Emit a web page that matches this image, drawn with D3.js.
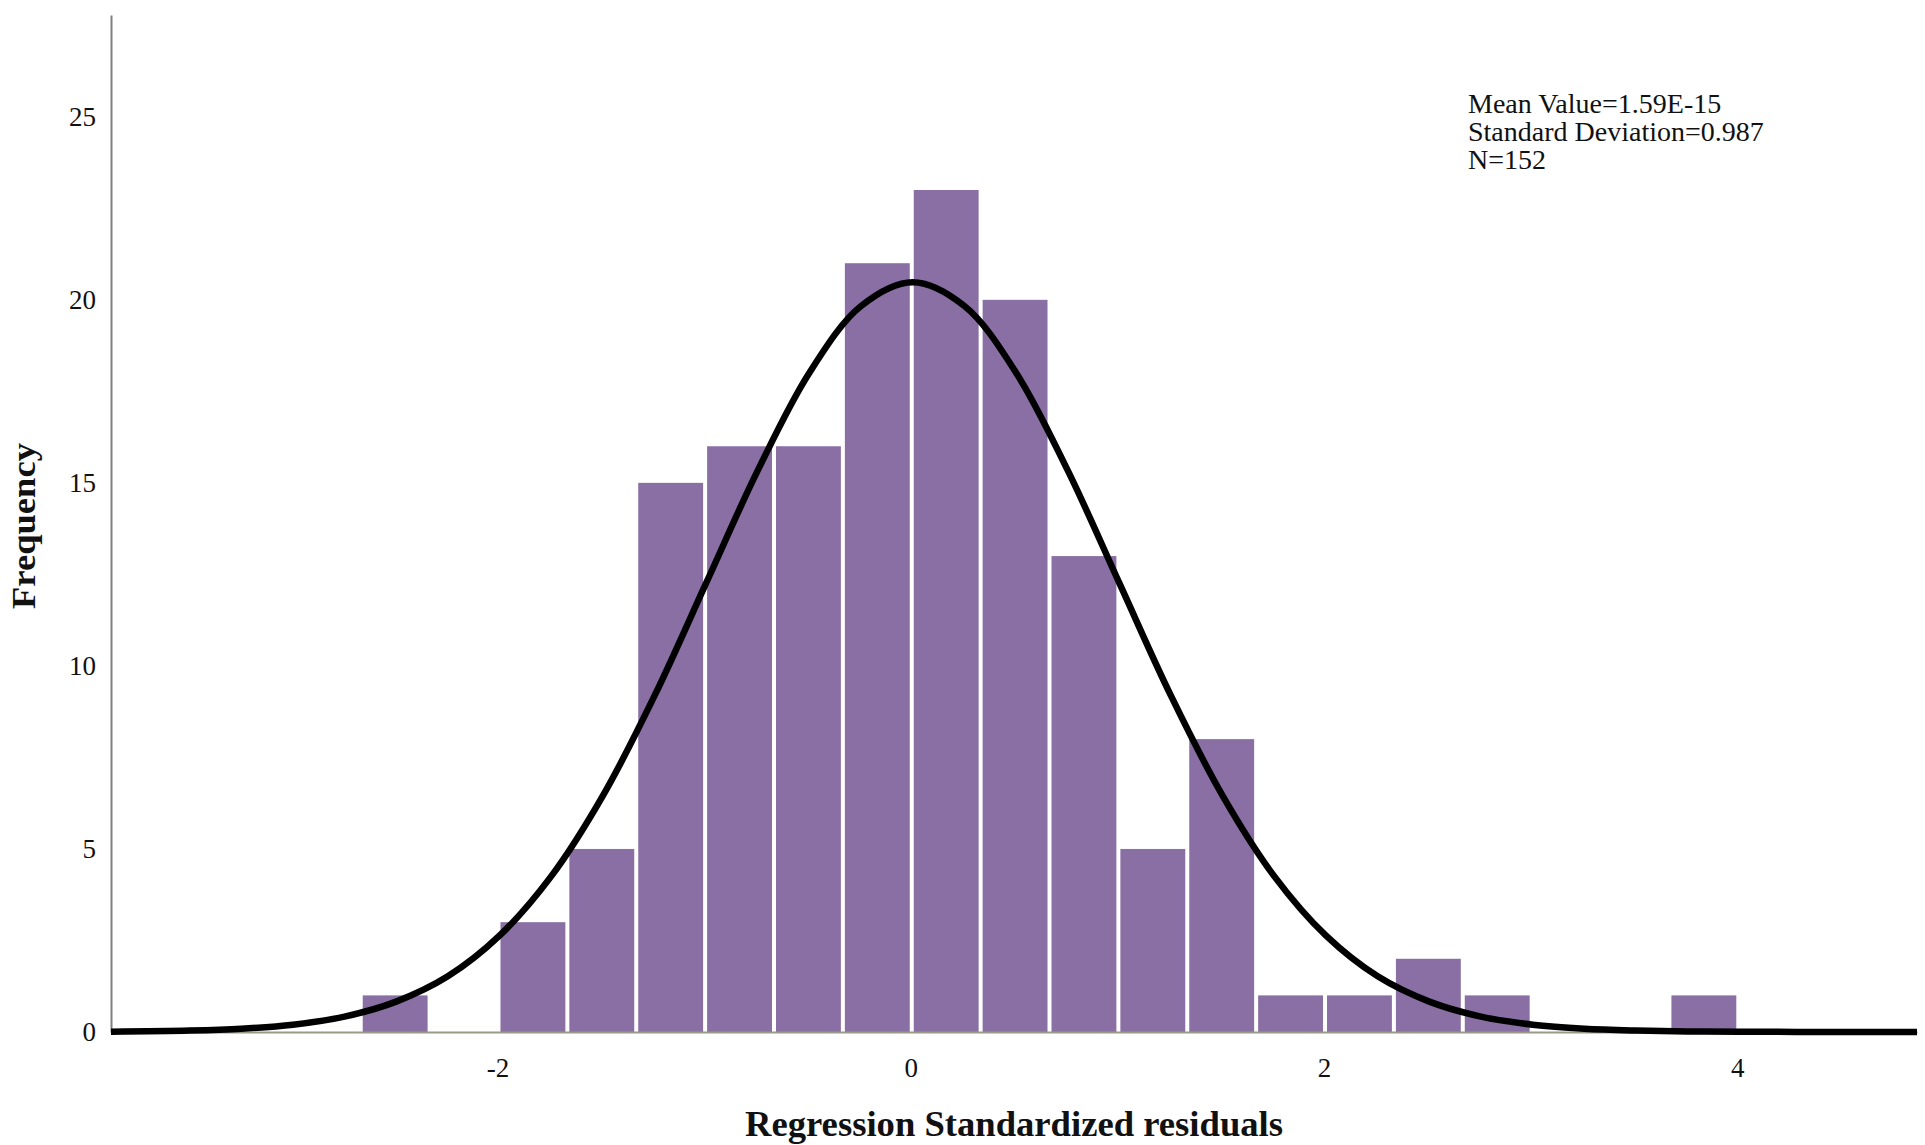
<!DOCTYPE html>
<html>
<head>
<meta charset="utf-8">
<script src="https://cdn.jsdelivr.net/npm/d3@7"></script>
<style>
  body { margin: 0; background: #fff; }
  svg { display: block; }
</style>
</head>
<body>
<svg id="chart"></svg>
<script>
// histogram bins (width 1/3), left edges and counts
const binStarts = [-8, -7, -6, -5, -4, -3, -2, -1, 0, 1, 2, 3, 4, 5, 6, 7, 8, 9, 10, 11].map((k) => k / 3);
const binCounts = [1, 0, 3, 5, 15, 16, 16, 21, 23, 20, 13, 5, 8, 1, 1, 2, 1, 0, 0, 1];
const binWidth = 1 / 3;

// normal curve
const curveX = [-3.88, -3.5, -3.25, -3, -2.75, -2.5, -2.25, -2, -1.75, -1.5, -1.25, -1, -0.75, -0.5, -0.25,
  0, 0.25, 0.5, 0.75, 1, 1.25, 1.5, 1.75, 2, 2.25, 2.5, 2.75, 3, 3.25, 3.5, 3.75, 4, 4.5, 4.86];
const curveY = [0.01, 0.04, 0.09, 0.2, 0.42, 0.83, 1.52, 2.63, 4.25, 6.45, 9.18, 12.26, 15.34, 18.01, 19.83,
  20.48, 19.83, 18.01, 15.34, 12.26, 9.18, 6.45, 4.25, 2.63, 1.52, 0.83, 0.42, 0.2, 0.09, 0.04, 0.015, 0.006, 0.001, 0];

const xTicks = [-2, 0, 2, 4];
const yTicks = [0, 5, 10, 15, 20, 25];
const statLines = ["Mean Value=1.59E-15", "Standard Deviation=0.987", "N=152"];

const W = 1925, H = 1145;
const plot = { left: 111, right: 1917, top: 15, bottom: 1032 };

const svg = d3.select("#chart").attr("width", W).attr("height", H);

const x = d3.scaleLinear().domain([-3.88, 4.86]).range([plot.left, plot.right]);
const y = d3.scaleLinear().domain([0, 27.78]).range([plot.bottom, plot.top]);

const serif = "'Liberation Serif', 'DejaVu Serif', serif";

// bars
const bins = binStarts.map((s, i) => ({ x0: s, x1: s + binWidth, n: binCounts[i] })).filter((d) => d.n > 0);
svg.append("g")
  .selectAll("rect")
  .data(bins)
  .enter()
  .append("rect")
  .attr("x", (d) => x(d.x0) + 1)
  .attr("width", (d) => x(d.x1) - x(d.x0) - 4)
  .attr("y", (d) => y(d.n))
  .attr("height", (d) => y(0) - y(d.n))
  .attr("fill", "#8a6fa4");

// x axis
const xAxis = svg.append("g")
  .attr("transform", `translate(0,${plot.bottom})`)
  .call(d3.axisBottom(x).tickValues(xTicks).tickSize(0).tickPadding(26).tickFormat((d) => String(d)));
xAxis.select(".domain").attr("stroke", "#9a9a8a").attr("stroke-width", 2);
xAxis.selectAll("text")
  .attr("dx", -2)
  .style("font-family", serif)
  .style("font-size", "27px")
  .attr("fill", "#111");

// y axis
const yAxis = svg.append("g")
  .attr("transform", `translate(${plot.left},0)`)
  .call(d3.axisLeft(y).tickValues(yTicks).tickSize(0).tickPadding(15));
yAxis.select(".domain").attr("stroke", "#808080").attr("stroke-width", 2);
yAxis.selectAll("text").style("font-family", serif).style("font-size", "27px").attr("fill", "#111");

// normal curve
const pts = curveX.map((v, i) => [v, curveY[i]]);
svg.append("path")
  .datum(pts)
  .attr("fill", "none")
  .attr("stroke", "#000")
  .attr("stroke-width", 6.5)
  .attr("stroke-linejoin", "round")
  .attr("d", d3.line().x((d) => x(d[0])).y((d) => y(d[1])).curve(d3.curveCatmullRom));

// stats box
const stats = svg.append("text")
  .attr("x", 1468)
  .attr("y", 113)
  .style("font-family", serif)
  .style("font-size", "28px")
  .attr("fill", "#111");
stats.selectAll("tspan")
  .data(statLines)
  .enter()
  .append("tspan")
  .attr("x", 1468)
  .attr("dy", (d, i) => (i === 0 ? 0 : 28))
  .text((d) => d);

// axis titles
svg.append("text")
  .attr("x", (plot.left + plot.right) / 2)
  .attr("y", 1136)
  .attr("text-anchor", "middle")
  .attr("textLength", 538)
  .attr("lengthAdjust", "spacingAndGlyphs")
  .style("font-family", serif)
  .style("font-size", "36px")
  .style("font-weight", "bold")
  .attr("fill", "#111")
  .text("Regression Standardized residuals");

svg.append("text")
  .attr("transform", `translate(35,526) rotate(-90)`)
  .attr("text-anchor", "middle")
  .attr("textLength", 166)
  .attr("lengthAdjust", "spacingAndGlyphs")
  .style("font-family", serif)
  .style("font-size", "34px")
  .style("font-weight", "bold")
  .attr("fill", "#111")
  .text("Frequency");
</script>
</body>
</html>
